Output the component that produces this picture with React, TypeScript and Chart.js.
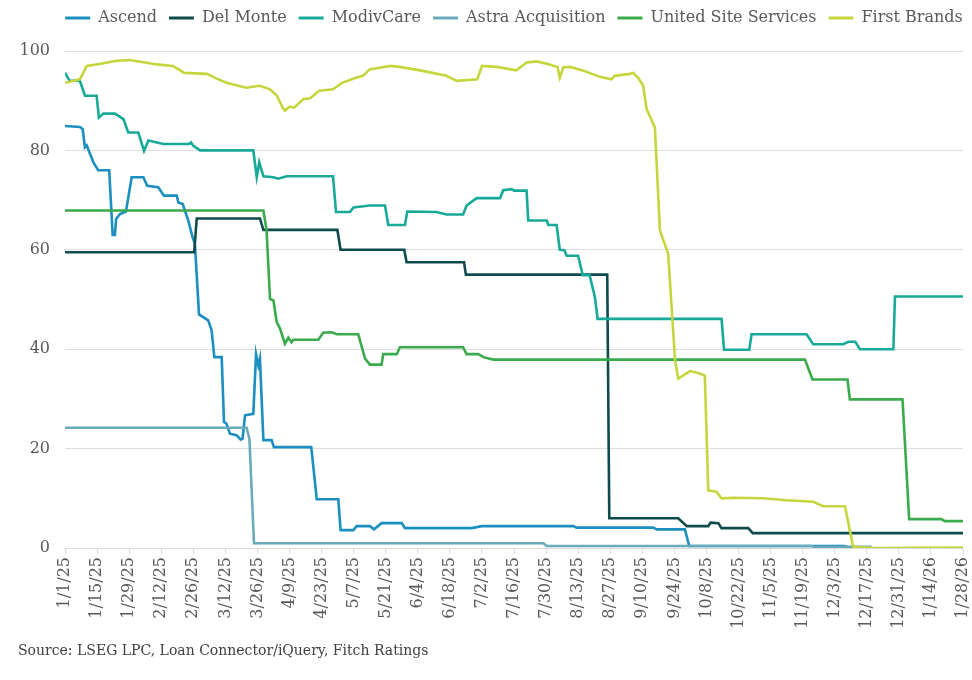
import { useEffect, useRef } from "react";
import { Chart, registerables } from "chart.js";

Chart.register(...registerables);

// x = days since 1/1/25, y = loan price
const TICK_LABELS = [
  "1/1/25", "1/15/25", "1/29/25", "2/12/25", "2/26/25", "3/12/25", "3/26/25",
  "4/9/25", "4/23/25", "5/7/25", "5/21/25", "6/4/25", "6/18/25", "7/2/25",
  "7/16/25", "7/30/25", "8/13/25", "8/27/25", "9/10/25", "9/24/25", "10/8/25",
  "10/22/25", "11/5/25", "11/19/25", "12/3/25", "12/17/25", "12/31/25",
  "1/14/26", "1/28/26",
];

const ASCEND: [number, number][] = [
  [0, 84.9], [6.5, 84.7], [7.7, 84.3], [8.7, 80.6], [9.5, 81], [10.5, 79.8], [12.4, 77.6],
  [14.5, 76], [19.3, 76], [20.8, 63], [21.8, 63], [22.3, 66.2], [24, 67.2], [26.6, 67.7],
  [29.1, 74.6], [34.2, 74.6], [35.9, 72.9], [40.7, 72.6], [43.2, 70.9], [48.8, 70.9],
  [49.5, 69.5], [51.4, 69.2], [53.8, 65.9], [55.7, 62.5], [56.7, 61.2], [58.5, 47],
  [62.5, 45.8], [64, 43.8], [65.2, 38.4], [68.4, 38.4], [69.4, 25.4], [70.5, 25], [72, 23],
  [74.9, 22.7], [76.7, 21.8], [77.5, 22], [78.6, 26.7], [82.2, 27], [83.4, 39], [84.4, 36.7],
  [85.1, 38.1], [86.6, 21.7], [90.2, 21.7], [91.2, 20.3], [107.5, 20.3], [109.9, 9.8],
  [119.3, 9.8], [120.3, 3.6], [125.9, 3.6], [127.3, 4.4], [133.1, 4.4], [134.9, 3.75],
  [138.2, 5], [147, 5], [148.4, 4], [177.5, 4], [181.9, 4.4], [221.9, 4.4], [223.3, 4.1],
  [256.8, 4.1], [258.3, 3.75], [270.6, 3.75], [272.5, 0.4], [340, 0.4], [342, 0.2], [352, 0.2],
];

const DEL_MONTE: [number, number][] = [
  [0, 59.5], [56.4, 59.5], [57.5, 66.3], [85.1, 66.3], [86.6, 64], [118.9, 64], [120.3, 60],
  [148.1, 60], [149.1, 57.5], [174.2, 57.5], [175, 55], [236.7, 55], [237.6, 6], [267.7, 6],
  [271.4, 4.4], [280.8, 4.4], [281.8, 5.1], [285.2, 5], [286.6, 4], [298.3, 4], [300.2, 3],
  [392.5, 3],
];

const MODIVCARE: [number, number][] = [
  [0, 95.6], [2, 94], [6.5, 94], [8.7, 91], [13.8, 91], [14.8, 86.6], [16.7, 87.4],
  [21.8, 87.4], [25.5, 86.3], [27.6, 83.6], [32, 83.6], [34.5, 79.9], [36.4, 82],
  [42.9, 81.3], [54.2, 81.3], [55, 81.6], [56, 80.9], [59, 80], [82.2, 80], [83.7, 74.6],
  [84.8, 77.6], [86.6, 74.8], [91, 74.6], [93, 74.3], [96.8, 74.8], [117, 74.8],
  [118.3, 67.6], [124.4, 67.6], [125.9, 68.5], [133, 68.9], [139.7, 68.9], [141.1, 65],
  [148.4, 65], [149.4, 67.7], [162.2, 67.6], [166.6, 67.1], [173.8, 67.1], [175.3, 68.9],
  [179.7, 70.4], [189.9, 70.4], [191.3, 72], [195, 72.2], [196, 71.9], [201.5, 71.9],
  [202.2, 65.9], [210.3, 65.9], [211, 65], [214.6, 65], [216, 60], [218, 59.9], [219, 58.8],
  [224, 58.8], [226, 54.9], [229, 54.9], [231.3, 50.5], [232.5, 46.1], [286.6, 46.1],
  [287.7, 39.9], [298.7, 39.9], [299.7, 43], [323.7, 43], [326.6, 41], [339.7, 41],
  [342, 41.5], [345, 41.5], [347, 40], [361.6, 40], [362.3, 50.6], [392.5, 50.6],
];

const ASTRA: [number, number][] = [
  [0, 24.2], [79.3, 24.2], [80.5, 22], [82.5, 0.95], [208.8, 0.95], [210.3, 0.4],
  [326, 0.4], [327, 0.2], [352, 0.2],
];

const UNITED_SITE: [number, number][] = [
  [0, 67.9], [86.6, 67.9], [88, 63.9], [89.5, 50.1], [91, 49.8], [92.4, 45.5], [93.9, 44.1],
  [96, 41.1], [97.5, 42.3], [98.9, 41.4], [99.7, 41.9], [110.6, 41.9], [112.7, 43.3],
  [116.4, 43.4], [118.6, 43], [128, 43], [131, 38.1], [133.1, 36.9], [138.2, 36.9],
  [138.9, 39], [144.8, 39], [146.2, 40.4], [173.8, 40.4], [175.3, 39], [180.4, 39],
  [182.6, 38.4], [187, 37.9], [323, 37.9], [326.3, 33.9], [341.6, 33.9], [342.6, 29.9],
  [365.6, 29.9], [368.5, 5.8], [382.6, 5.8], [384, 5.4], [392.5, 5.4],
];

const FIRST_BRANDS: [number, number][] = [
  [0, 93.6], [4, 94], [6.5, 94.3], [9.5, 97], [15, 97.4], [22, 98], [28, 98.2], [35, 97.7],
  [40, 97.3], [47, 97], [50, 96.2], [52, 95.6], [62, 95.4], [66, 94.5], [70.5, 93.6],
  [79, 92.6], [85, 93], [89.5, 92.3], [92.5, 91], [95, 88.6], [96, 88], [98, 88.8],
  [100, 88.6], [104, 90.3], [107, 90.5], [111, 92], [117, 92.3], [121, 93.6], [127, 94.6],
  [130, 95], [133, 96.3], [142, 97], [146, 96.8], [155, 96.1], [166.5, 95], [171, 94],
  [180, 94.3], [182, 97], [188.5, 96.8], [197, 96.1], [201.5, 97.7], [206, 97.9],
  [211.5, 97.3], [215, 96.8], [216, 94.6], [217.5, 96.7], [220.5, 96.8], [226, 96.1],
  [233.5, 94.8], [238.5, 94.3], [240, 95], [246.6, 95.4], [248, 95.6], [250.2, 94.6],
  [252.4, 93], [253.9, 88.3], [257.5, 84.6], [259.7, 63.9], [263.3, 59.2], [266.3, 37.8],
  [267.7, 34.1], [272.8, 35.6], [276.4, 35.2], [279.3, 34.7], [280.8, 11.6], [284.4, 11.3],
  [286.6, 10], [291.7, 10.1], [304.8, 10], [315, 9.6], [326.6, 9.3], [331, 8.4],
  [340.5, 8.4], [344, 0.3], [352.8, 0], [392.5, 0.1],
];

const SERIES_NAMES = [
  "Ascend", "Del Monte", "ModivCare", "Astra Acquisition", "United Site Services", "First Brands",
];
const SERIES_DATA = [ASCEND, DEL_MONTE, MODIVCARE, ASTRA, UNITED_SITE, FIRST_BRANDS];
const SERIES_COLORS = ["#1a8fc0", "#0f4a4c", "#17aa98", "#6aaabb", "#3aab4c", "#c4d63c"];

const FONT = '"DejaVu Serif", serif';
const TEXT = "#595959";

// centre the legend over the plot area and lift it to the top edge
const legendPlacement = {
  id: "legendPlacement",
  afterLayout(chart: any) {
    const lg = chart.legend;
    const ca = chart.chartArea;
    if (!lg || !ca) return;
    const h = lg.height;
    const delta = (ca.left + ca.right) / 2 - (lg.left + lg.right) / 2;
    lg.left += delta;
    lg.right += delta;
    lg.top = -2;
    lg.bottom = lg.top + h;
  },
};

export default function App() {
  const ref = useRef<HTMLCanvasElement>(null);

  useEffect(() => {
    if (!ref.current) return;
    const datasets = SERIES_NAMES.map((name, i) => ({
      label: name,
      data: SERIES_DATA[i].map(([x, y]) => ({ x, y })),
      borderColor: SERIES_COLORS[i],
      backgroundColor: SERIES_COLORS[i],
      borderWidth: 2.6,
      pointRadius: 0,
      tension: 0,
    })).reverse(); // last series drawn on top

    const chart = new Chart(ref.current, {
      type: "line",
      data: { datasets },
      plugins: [legendPlacement],
      options: {
        animation: false,
        responsive: false,
        maintainAspectRatio: false,
        parsing: false as any,
        layout: { padding: { top: 13, left: 0, right: 0, bottom: 0 } },
        plugins: {
          legend: {
            position: "top",
            reverse: true,
            labels: {
              boxWidth: 25,
              boxHeight: 3,
              padding: 12,
              color: TEXT,
              font: { family: FONT, size: 16 },
              generateLabels: (c: any) =>
                Chart.defaults.plugins.legend.labels.generateLabels(c).map((l: any) => ({
                  ...l,
                  lineWidth: 0,
                })),
            },
          },
          tooltip: { enabled: false },
        },
        scales: {
          x: {
            type: "linear",
            min: 0,
            max: 392,
            afterFit: (s: any) => {
              s.height = 132;
              s.paddingLeft = 0;
              s.paddingRight = 9;
            },
            border: { display: true, color: "#d9d9d9" },
            grid: { display: true, drawOnChartArea: false, drawTicks: true, tickLength: 6, color: "#d9d9d9" },
            ticks: {
              stepSize: 14,
              autoSkip: false,
              minRotation: 90,
              maxRotation: 90,
              color: TEXT,
              font: { family: FONT, size: 16 },
              callback: (v: any) => TICK_LABELS[Math.round(Number(v) / 14)] ?? "",
            },
          },
          y: {
            min: 0,
            max: 100,
            afterFit: (s: any) => {
              s.width = 65;
              s.paddingTop = 0;
              s.paddingBottom = 0;
            },
            border: { display: false },
            grid: { color: "#dedede", drawTicks: false },
            ticks: {
              stepSize: 20,
              padding: 15,
              color: TEXT,
              font: { family: FONT, size: 16 },
            },
          },
        },
      },
    });
    return () => chart.destroy();
  }, []);

  return (
    <div style={{ position: "absolute", left: 0, top: 0, width: 972, height: 680, background: "#fff" }}>
      <canvas ref={ref} width={972} height={680} style={{ width: 972, height: 680, display: "block" }} />
      <div
        style={{
          position: "absolute",
          left: 18,
          top: 642,
          fontFamily: FONT,
          fontSize: 14,
          color: "#404040",
          whiteSpace: "nowrap",
        }}
      >
        Source: LSEG LPC, Loan Connector/iQuery, Fitch Ratings
      </div>
    </div>
  );
}
